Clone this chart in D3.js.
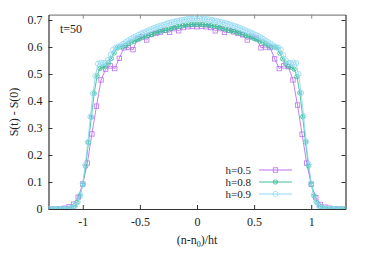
<!DOCTYPE html>
<html><head><meta charset="utf-8">
<script src="https://cdn.jsdelivr.net/npm/d3@7"></script>
<style>
html,body{margin:0;padding:0;background:#fff;}
svg{display:block;font-family:"Liberation Serif","DejaVu Serif",serif;}
</style></head>
<body>
<svg id="c" width="374" height="262"></svg>
<script>
// ---- data ----
const timeT = 50;
const hValues = [0.5, 0.8, 0.9];
const seriesLabels = ["h=0.5", "h=0.8", "h=0.9"];
const nStart = [-32, -52, -58];   // first site offset n-n0 of each series
const yTicks = [0, 0.1, 0.2, 0.3, 0.4, 0.5, 0.6, 0.7];
const xTicks = [-1, -0.5, 0, 0.5, 1];
const xTickLabels = ["-1", "-0.5", "0", "0.5", "1"];
const yTickLabels = ["0", "0.1", "0.2", "0.3", "0.4", "0.5", "0.6", "0.7"];

const valuesH05 = [0,0,0.001,0.003,0.008,0.018,0.044,0.093,0.170,0.278,0.381,0.478,0.518,0.530,0.520,0.558,0.597,0.598,0.590,0.630,0.638,0.626,0.646,0.650,0.655,0.662,0.654,0.668,0.660,0.672,0.675,0.676,
0.675,
0.676,0.675,0.672,0.660,0.668,0.654,0.662,0.656,0.650,0.645,0.626,0.640,0.632,0.597,0.600,0.598,0.556,0.520,0.530,0.527,0.478,0.385,0.277,0.170,0.092,0.042,0.017,0.007,0.003,0.001,0,0];

const valuesH08 = [0,0,0,0,0,0,0.001,0.002,0.005,0.011,0.024,0.047,0.090,0.158,0.246,0.340,0.428,0.492,0.520,0.526,0.530,0.541,0.558,0.578,0.596,0.600,0.601,0.606,0.612,0.618,0.622,0.627,0.631,0.636,0.640,0.643,0.646,0.651,0.654,0.658,0.660,0.662,0.666,0.669,0.672,0.675,0.677,0.679,0.681,0.682,0.683,0.684,
0.684,
0.684,0.683,0.682,0.681,0.679,0.677,0.675,0.672,0.669,0.666,0.662,0.660,0.658,0.654,0.651,0.646,0.643,0.640,0.636,0.631,0.627,0.622,0.618,0.612,0.606,0.600,0.600,0.597,0.577,0.556,0.540,0.528,0.525,0.518,0.490,0.430,0.342,0.248,0.160,0.091,0.048,0.024,0.011,0.005,0.002,0.001,0,0,0,0,0,0];

const valuesH09 = [0,0,0,0,0,0,0,0.001,0.002,0.005,0.012,0.026,0.051,0.094,0.163,0.248,0.342,0.428,0.493,0.538,0.542,0.540,0.541,0.552,0.572,0.590,0.598,0.601,0.606,0.612,0.618,0.624,0.630,0.636,0.640,0.645,0.650,0.654,0.658,0.662,0.666,0.670,0.674,0.677,0.680,0.683,0.686,0.689,0.692,0.694,0.696,0.698,0.700,0.701,0.703,0.704,0.704,0.705,
0.705,
0.705,0.704,0.704,0.703,0.701,0.700,0.698,0.696,0.694,0.692,0.689,0.686,0.683,0.680,0.677,0.674,0.670,0.666,0.662,0.658,0.654,0.650,0.645,0.640,0.636,0.630,0.624,0.618,0.612,0.606,0.600,0.598,0.590,0.570,0.550,0.540,0.540,0.543,0.540,0.500,0.430,0.345,0.250,0.165,0.095,0.052,0.026,0.012,0.005,0.002,0.001,0,0,0,0,0,0,0];

const seriesValues = [valuesH05, valuesH08, valuesH09];
const colors = ["#bb70f2", "#3fbf9b", "#90d8f3"];

// ---- layout ----
const svg = d3.select("#c");
const M = {left: 48.5, right: 345.5, top: 14.6, bottom: 209};
const x = d3.scaleLinear().domain([-1.3, 1.3]).range([M.left, M.right]);
const y = d3.scaleLinear().domain([0, 0.72]).range([M.bottom, M.top]);

const series = seriesValues.map((vals, s) => vals.map((v, i) => ({
  x: (nStart[s] + i) / (hValues[s] * timeT), y: v
})));

svg.append("defs").append("clipPath").attr("id", "pc")
  .append("rect").attr("x", M.left).attr("y", M.top - 4)
  .attr("width", M.right - M.left).attr("height", M.bottom - M.top + 4);

// axes with inward ticks (all four sides)
const tk = 4;
const axB = d3.axisBottom(x).tickValues(xTicks).tickFormat((d, i) => xTickLabels[i]).tickSizeInner(-tk).tickSizeOuter(0).tickPadding(8);
const axT = d3.axisTop(x).tickValues(xTicks).tickFormat("").tickSizeInner(-tk).tickSizeOuter(0);
const axL = d3.axisLeft(y).tickValues(yTicks).tickFormat((d, i) => yTickLabels[i]).tickSizeInner(-tk).tickSizeOuter(0).tickPadding(6);
const axR = d3.axisRight(y).tickValues(yTicks).tickFormat("").tickSizeInner(-tk).tickSizeOuter(0);

function styleAxis(g, col) {
  g.select(".domain").attr("stroke", col).attr("stroke-width", 1.2);
  g.selectAll(".tick line").attr("stroke", col).attr("stroke-width", 1);
  g.selectAll("text").attr("font-family", "Liberation Serif, serif").attr("font-size", 12).attr("fill", "#222");
}
styleAxis(svg.append("g").attr("transform", `translate(0,${M.bottom})`).call(axB), "#333");
styleAxis(svg.append("g").attr("transform", `translate(0,${M.top})`).call(axT), "#888");
styleAxis(svg.append("g").attr("transform", `translate(${M.left},0)`).call(axL), "#333");
styleAxis(svg.append("g").attr("transform", `translate(${M.right},0)`).call(axR), "#333");

// lines and markers
const line = d3.line().x(d => x(d.x)).y(d => y(d.y));
const plot = svg.append("g").attr("clip-path", "url(#pc)");

function drawMarker(g, s, cx, cy) {
  if (s === 0) {
    g.append("rect").attr("x", cx - 2.2).attr("y", cy - 2.2).attr("width", 4.4).attr("height", 4.4)
      .attr("fill", "none").attr("stroke", colors[s]).attr("stroke-width", 0.8);
  } else if (s === 1) {
    g.append("circle").attr("cx", cx).attr("cy", cy).attr("r", 2.2)
      .attr("fill", "none").attr("stroke", colors[s]).attr("stroke-width", 0.8);
    g.append("path").attr("d", `M${cx-1.5},${cy-1.5}L${cx+1.5},${cy+1.5}M${cx-1.5},${cy+1.5}L${cx+1.5},${cy-1.5}`)
      .attr("stroke", colors[s]).attr("stroke-width", 0.7);
  } else {
    g.append("circle").attr("cx", cx).attr("cy", cy).attr("r", 2.6)
      .attr("fill", "none").attr("stroke", colors[s]).attr("stroke-width", 0.8);
  }
}

series.forEach((pts, s) => {
  const g = plot.append("g");
  g.append("path").datum(pts).attr("d", line).attr("fill", "none")
    .attr("stroke", colors[s]).attr("stroke-width", 0.9);
  pts.forEach(p => drawMarker(g, s, x(p.x), y(p.y)));
});

// legend
const legY = [170, 182, 194];
seriesLabels.forEach((lab, s) => {
  svg.append("text").attr("x", 251).attr("y", legY[s] + 4).attr("text-anchor", "end")
    .attr("font-size", 11).attr("fill", "#222").text(lab);
  svg.append("line").attr("x1", 259).attr("x2", 292).attr("y1", legY[s]).attr("y2", legY[s])
    .attr("stroke", colors[s]).attr("stroke-width", 1);
  drawMarker(svg.append("g"), s, 275.5, legY[s]);
});

// annotations and axis titles
svg.append("text").attr("x", 60).attr("y", 33).attr("font-size", 12).attr("fill", "#222").text("t=" + timeT);

const xl = svg.append("text").attr("x", 197).attr("y", 244).attr("text-anchor", "middle")
  .attr("font-size", 12).attr("fill", "#222");
xl.append("tspan").text("(n-n");
xl.append("tspan").attr("font-size", 8).attr("dy", 3).text("0");
xl.append("tspan").attr("dy", -3).text(")/ht");

svg.append("text").attr("transform", "translate(18,112) rotate(-90)").attr("text-anchor", "middle")
  .attr("font-size", 12).attr("fill", "#222").text("S(t) - S(0)");
</script>
</body></html>
